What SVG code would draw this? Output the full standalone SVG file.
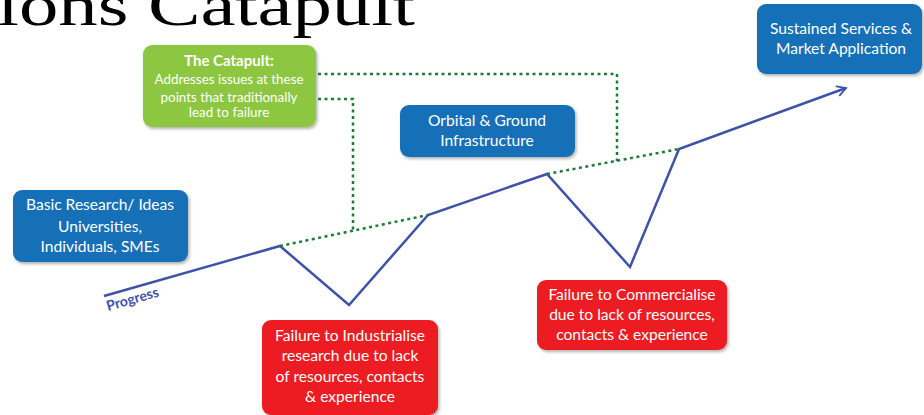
<svg xmlns="http://www.w3.org/2000/svg" width="924" height="415" viewBox="0 0 924 415">
<defs>
<filter id="sh" x="-10%" y="-10%" width="125%" height="130%">
<feDropShadow dx="1.5" dy="2" stdDeviation="1.5" flood-color="#000" flood-opacity="0.3"/>
</filter>
<marker id="arr" viewBox="0 0 20 20" refX="17" refY="10" markerWidth="12" markerHeight="12" markerUnits="userSpaceOnUse" orient="auto">
<path d="M3 2 L17 10 L3 18" fill="none" stroke="#3F51A8" stroke-width="3" stroke-linecap="round" stroke-linejoin="miter"/>
</marker>
<style>
.box{filter:url(#sh)}
.blue{fill:#1570B8}
.green{fill:#8DC63F}
.red{fill:#ED1C24}
.t{font-family:Lato,"Liberation Sans",sans-serif;fill:#fff;text-anchor:middle}
.t15{font-size:15.6px}
.t12{font-size:13.4px}
.b{font-weight:bold;font-size:15px}
.line{fill:none;stroke:#3F51A8;stroke-width:2.5;stroke-linejoin:miter}
.dot{fill:none;stroke:#1F7A3A;stroke-width:2.5;stroke-dasharray:3 3.5}
.title{font-family:"Liberation Serif",serif;font-size:60px;fill:#000}
</style>
</defs>
<rect width="924" height="415" fill="#fff"/>
<text class="title" x="-3" y="25" textLength="418" lengthAdjust="spacingAndGlyphs">ions Catapult</text>

<g id="connectors">
<polyline class="line" points="104,296 280,246 349,305 428,215 547,174 630,267 679,149 846,88" marker-end="url(#arr)"/>
<path class="dot" d="M280 246 L428 215"/>
<path class="dot" d="M547 174 L679 149"/>
<path class="dot" d="M318 99 H353 V231"/>
<path class="dot" d="M318 74 H617 V161"/>
<text x="108" y="311" transform="rotate(-16 108 311)" font-family="Lato,'Liberation Sans',sans-serif" font-size="14" font-weight="bold" fill="#3F51A8">Progress</text>
</g>

<g id="basic">
<rect class="box blue" x="13" y="190" width="175" height="72" rx="9"/>
<text class="t t15" x="100" y="210">Basic Research/ Ideas</text>
<text class="t t15" x="100" y="232">Universities,</text>
<text class="t t15" x="100" y="252">Individuals, SMEs</text>
</g>

<g id="catapult">
<rect class="box green" x="143" y="45" width="173" height="82" rx="9"/>
<text class="t b" x="229" y="66">The Catapult:</text>
<text class="t t12" x="229" y="84">Addresses issues at these</text>
<text class="t t12" x="229" y="102">points that traditionally</text>
<text class="t t12" x="229" y="117">lead to failure</text>
</g>

<g id="orbital">
<rect class="box blue" x="400" y="105" width="175" height="52" rx="9"/>
<text class="t t15" x="487" y="126">Orbital &amp; Ground</text>
<text class="t t15" x="487" y="146">Infrastructure</text>
</g>

<g id="sustained">
<rect class="box blue" x="757" y="4" width="165" height="70" rx="9"/>
<text class="t t15" x="841" y="34">Sustained Services &amp;</text>
<text class="t t15" x="841" y="54">Market Application</text>
</g>

<g id="industrialise">
<rect class="box red" x="262" y="320" width="176" height="95" rx="9"/>
<text class="t t15" x="350" y="341">Failure to Industrialise</text>
<text class="t t15" x="350" y="361">research due to lack</text>
<text class="t t15" x="350" y="382">of resources, contacts</text>
<text class="t t15" x="350" y="402">&amp; experience</text>
</g>

<g id="commercialise">
<rect class="box red" x="537" y="280" width="190" height="70" rx="9"/>
<text class="t t15" x="632" y="300">Failure to Commercialise</text>
<text class="t t15" x="632" y="320">due to lack of resources,</text>
<text class="t t15" x="632" y="340">contacts &amp; experience</text>
</g>
</svg>
